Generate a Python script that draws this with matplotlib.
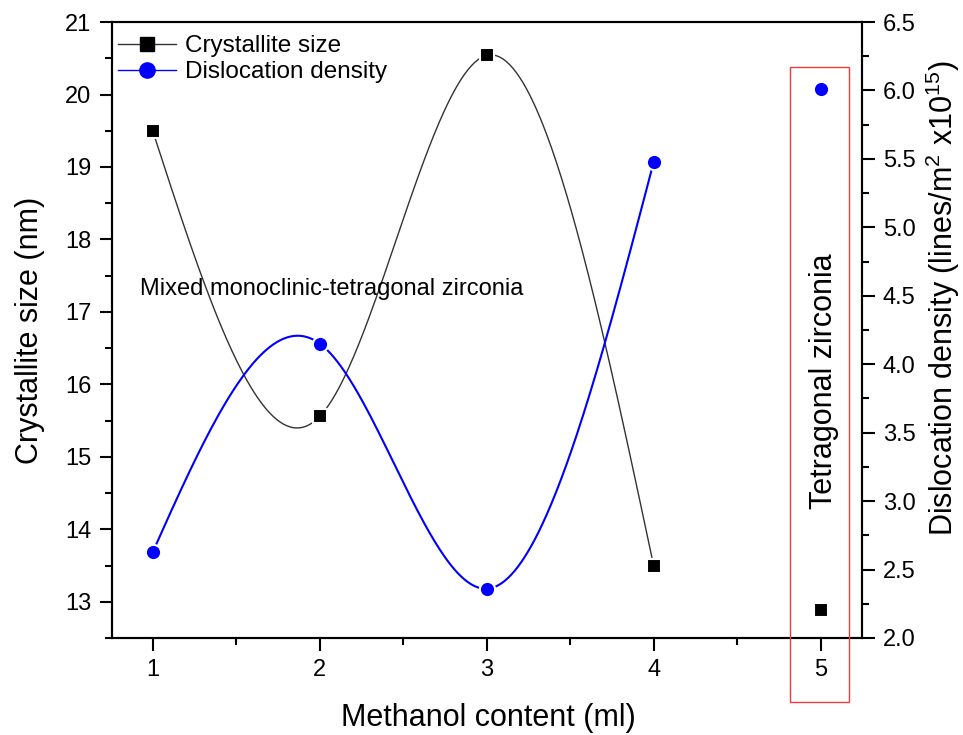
import matplotlib
matplotlib.use('Agg')
import matplotlib.pyplot as plt
import matplotlib.patches as mpatches
from matplotlib.lines import Line2D
from matplotlib.ticker import MultipleLocator, FormatStrFormatter
import numpy as np

plt.rcParams['font.family'] = ['Liberation Sans', 'DejaVu Sans']
plt.rcParams['mathtext.fontset'] = 'custom'
plt.rcParams['mathtext.rm'] = 'Liberation Sans'

# data
methanol = [1, 2, 3, 4, 5]
crystallite = [19.49, 15.56, 20.54, 13.49, 12.89]
dislocation = [2.63, 4.15, 2.36, 5.48, 6.01]
n_mixed = 4  # the first four samples are joined by a smooth curve


def natural_spline(x, y, num=300):
    """Natural cubic spline through the points, sampled on a fine grid."""
    x = np.asarray(x, float)
    y = np.asarray(y, float)
    n = len(x)
    h = np.diff(x)
    A = np.zeros((n, n))
    b = np.zeros(n)
    A[0, 0] = A[-1, -1] = 1.0
    for i in range(1, n - 1):
        A[i, i - 1] = h[i - 1]
        A[i, i] = 2 * (h[i - 1] + h[i])
        A[i, i + 1] = h[i]
        b[i] = 3 * ((y[i + 1] - y[i]) / h[i] - (y[i] - y[i - 1]) / h[i - 1])
    c = np.linalg.solve(A, b)
    xs = np.linspace(x[0], x[-1], num)
    ys = np.empty_like(xs)
    for k, xv in enumerate(xs):
        i = min(np.searchsorted(x, xv, side='right') - 1, n - 2)
        dx = xv - x[i]
        bi = (y[i + 1] - y[i]) / h[i] - h[i] * (2 * c[i] + c[i + 1]) / 3
        di = (c[i + 1] - c[i]) / (3 * h[i])
        ys[k] = y[i] + bi * dx + c[i] * dx ** 2 + di * dx ** 3
    return xs, ys


fig = plt.figure(figsize=(9.63, 7.35), dpi=100)
ax = fig.add_axes([0.1163, 0.132, 0.7788, 0.838])
ax2 = ax.twinx()

black_line = '#333333'
blue = '#0000ff'

xs, ys = natural_spline(methanol[:n_mixed], crystallite[:n_mixed])
ax.plot(xs, ys, color=black_line, lw=1.0, zorder=2)
ax.plot(methanol, crystallite, ls='none', marker='s', ms=10, color='black',
        mec='white', mew=1.5, zorder=3)

xs, ys = natural_spline(methanol[:n_mixed], dislocation[:n_mixed])
ax2.plot(xs, ys, color=blue, lw=1.5, zorder=2)
ax2.plot(methanol, dislocation, ls='none', marker='o', ms=11, color=blue,
         mec='white', mew=1.5, zorder=3)

ax.set_xlim(0.755, 5.247)
ax.set_ylim(12.5, 21)
ax2.set_ylim(2.0, 6.5)

ax.xaxis.set_major_locator(MultipleLocator(1))
ax.xaxis.set_minor_locator(MultipleLocator(0.5))
ax.yaxis.set_major_locator(MultipleLocator(1))
ax.yaxis.set_minor_locator(MultipleLocator(0.5))
ax2.yaxis.set_major_locator(MultipleLocator(0.5))
ax2.yaxis.set_minor_locator(MultipleLocator(0.25))
ax2.yaxis.set_major_formatter(FormatStrFormatter('%.1f'))

for a in (ax, ax2):
    for s in a.spines.values():
        s.set_linewidth(1.5)
    a.tick_params(which='major', direction='out', length=9, width=1.5,
                  labelsize=17, pad=6)
    a.tick_params(which='minor', direction='out', length=5, width=1.5)

# axis titles placed where the reference has them
fig.text(0.507, 0.023, 'Methanol content (ml)', fontsize=22,
         ha='center', va='center')
fig.text(0.031, 0.55, 'Crystallite size (nm)', fontsize=22, rotation=90,
         ha='center', va='center')
fig.text(0.979, 0.594, 'Dislocation density (lines/m$^{2}$ x10$^{15}$)',
         fontsize=22, rotation=90, ha='center', va='center')

ax.text(0.92, 17.32, 'Mixed monoclinic-tetragonal zirconia', fontsize=17,
        ha='left', va='center')
ax.text(5.02, 16.05, 'Tetragonal zirconia', fontsize=22, rotation=90,
        ha='center', va='center')

# red frame around the tetragonal sample, reaching below the axis
box = mpatches.Rectangle((0.8204, 0.0449), 0.0613, 0.864,
                         transform=fig.transFigure, fill=False,
                         edgecolor='#f03c3c', lw=1.0, clip_on=False, zorder=5)
fig.patches.append(box)

handles = [
    Line2D([], [], color=black_line, lw=1.0, marker='s', ms=10,
           mfc='black', mec='black'),
    Line2D([], [], color=blue, lw=1.0, marker='o', ms=11,
           mfc=blue, mec=blue),
]
ax.legend(handles, ['Crystallite size', 'Dislocation density'],
          loc='upper left', bbox_to_anchor=(-0.01, 1.0), frameon=False,
          fontsize=17.5, handlelength=2.4, handletextpad=0.35,
          labelspacing=0.15, borderaxespad=0.15)

plt.savefig('out.png', dpi=100, facecolor='white')
plt.close()
